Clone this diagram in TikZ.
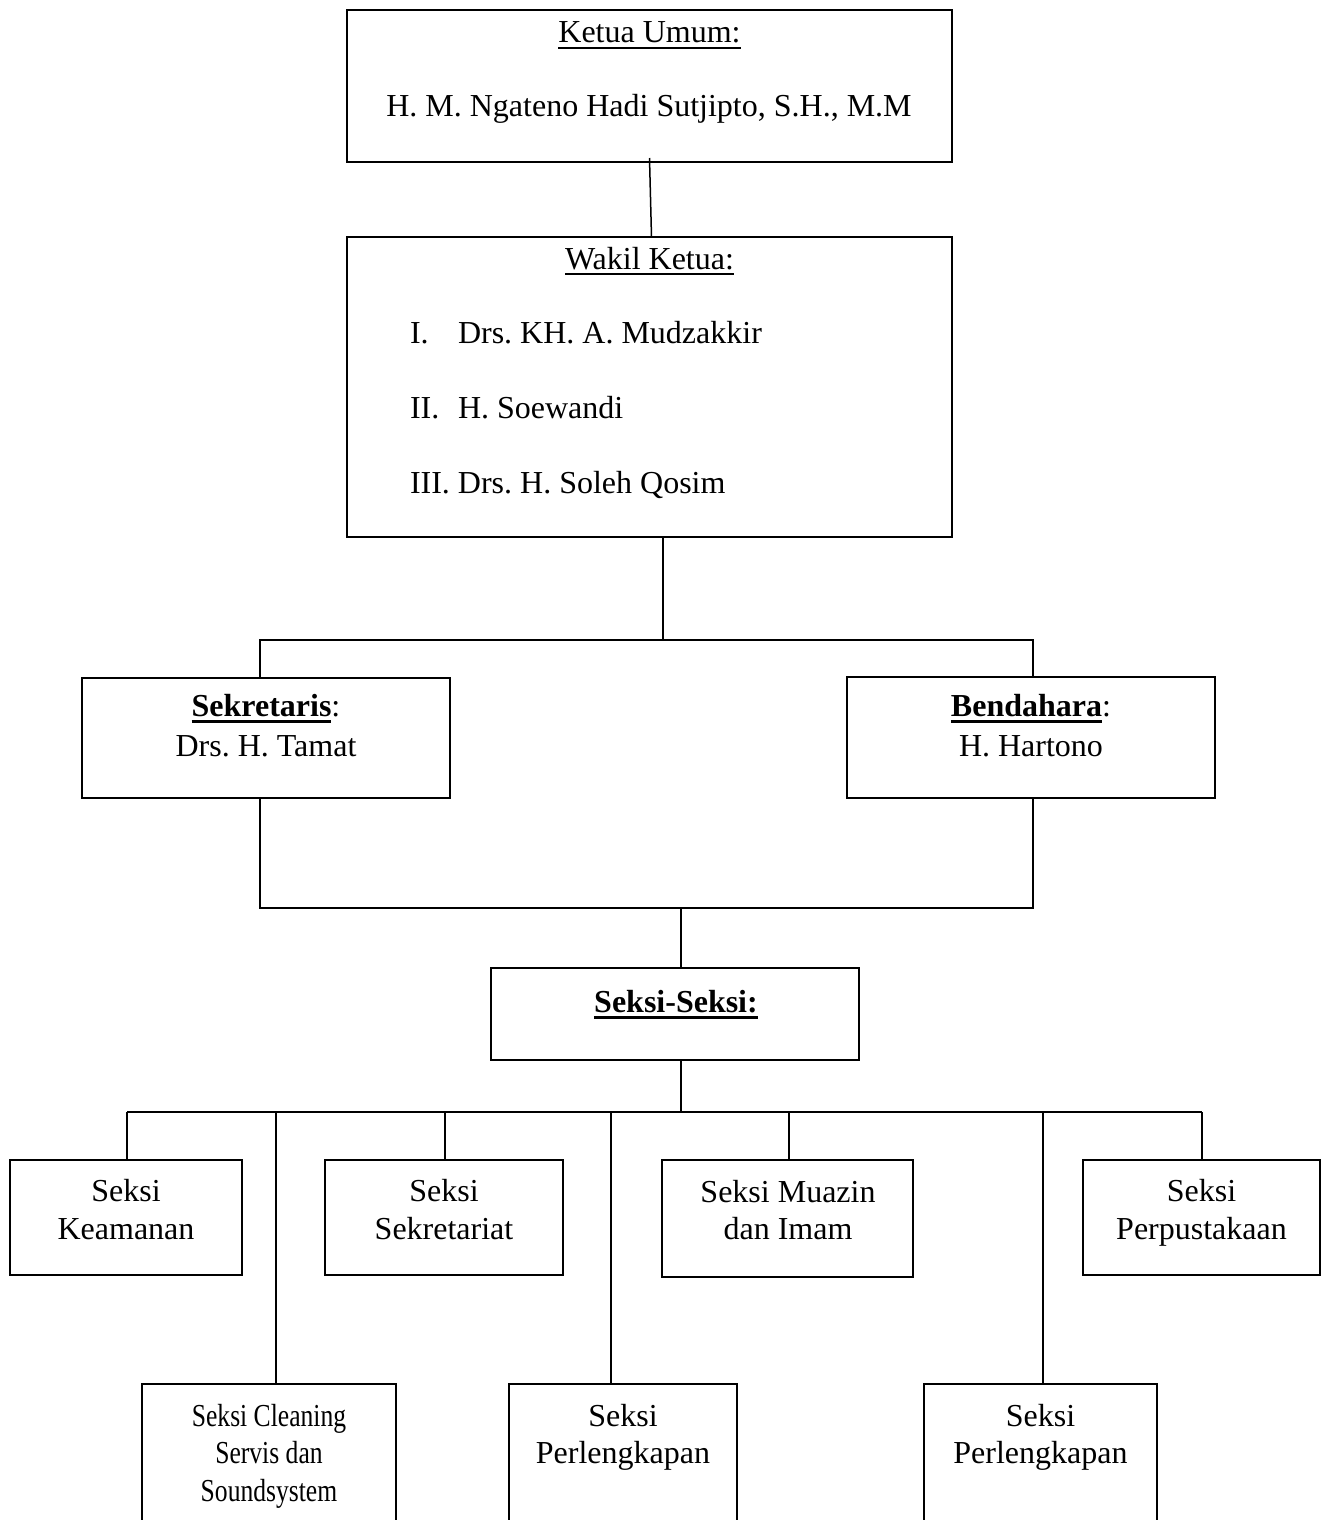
\documentclass[tikz,border=0pt]{standalone}
\usepackage{fontspec}
\usepackage{graphicx}
\setmainfont{Liberation Serif}
\frenchspacing
\newcommand\myul[3]{\setbox0\hbox{#3}\rlap{\rule[-#1]{\wd0}{#2}}\box0}
\newcommand\nul[1]{\myul{6pt}{2pt}{#1}}
\newcommand\bul[1]{\myul{7pt}{3pt}{\bfseries #1}}
\newcommand\cond[1]{\scalebox{0.8}[1]{#1}}
\tikzset{
  boxnode/.style={draw, line width=2pt, inner sep=0pt, outer sep=0pt, rectangle},
  txt/.style={inner sep=0pt, outer sep=0pt, anchor=base, font=\fontsize{32}{38}\selectfont\frenchspacing},
  txtw/.style={txt, anchor=base west},
  conn/.style={line width=1.5pt}
}
\begin{document}
\begin{tikzpicture}[x=1pt,y=-1pt]
\clip (0,0) rectangle (1325,1520);
\fill[white] (0,0) rectangle (1325,1520);
% boxes
\node[boxnode, minimum width=605pt, minimum height=152pt] (ketua) at (649.5,86) {};
\node[boxnode, minimum width=605pt, minimum height=300pt] (wakil) at (649.5,387) {};
\node[boxnode, minimum width=368pt, minimum height=120pt] (sekr) at (266,738) {};
\node[boxnode, minimum width=368pt, minimum height=121pt] (bend) at (1031,737.5) {};
\node[boxnode, minimum width=368pt, minimum height=92pt] (seksi) at (675,1014) {};
\node[boxnode, minimum width=232pt, minimum height=115pt] (keam) at (126,1217.5) {};
\node[boxnode, minimum width=238pt, minimum height=115pt] (sekt) at (444,1217.5) {};
\node[boxnode, minimum width=251pt, minimum height=117pt] (muaz) at (787.5,1218.5) {};
\node[boxnode, minimum width=237pt, minimum height=115pt] (perp) at (1201.5,1217.5) {};
\node[boxnode, minimum width=254pt, minimum height=200pt] (clean) at (269,1484) {};
\node[boxnode, minimum width=228pt, minimum height=200pt] (perl) at (623,1484) {};
\node[boxnode, minimum width=233pt, minimum height=200pt] (perlb) at (1040.5,1484) {};
% texts
\node[txt] (t1) at (649.5,43) {\nul{Ketua Umum:}};
\node[txt] (t2) at (649,116) {H. M. Ngateno Hadi Sutjipto, S.H., M.M};
\node[txt] (t3) at (649.5,269) {\nul{Wakil Ketua:}};
\node[txtw] (l1) at (410,343) {I.};
\node[txtw] (n1) at (458,343) {Drs. KH. A. Mudzakkir};
\node[txtw] (l2) at (410,418) {II.};
\node[txtw] (n2) at (458,418) {H. Soewandi};
\node[txtw] (n3) at (410,493) {III. Drs. H. Soleh Qosim};
\node[txt] (s1) at (266,716) {\bul{Sekretaris}:};
\node[txt] (s2) at (266,756) {Drs. H. Tamat};
\node[txt] (b1) at (1031,716) {\bul{Bendahara}:};
\node[txt] (b2) at (1031,756) {H. Hartono};
\node[txt] (k1) at (676,1012) {\bul{Seksi-Seksi:}};
\node[txt] (r1a) at (126,1201) {Seksi};
\node[txt] (r1b) at (126,1239) {Keamanan};
\node[txt] (r2a) at (444,1201) {Seksi};
\node[txt] (r2b) at (444,1239) {Sekretariat};
\node[txt] (r3a) at (788,1202) {Seksi Muazin};
\node[txt] (r3b) at (788,1239) {dan Imam};
\node[txt] (r4a) at (1201.5,1201) {Seksi};
\node[txt] (r4b) at (1201.5,1239) {Perpustakaan};
\node[txt] (c1) at (269,1426) {\cond{Seksi Cleaning}};
\node[txt] (c2) at (269,1463) {\cond{Servis dan}};
\node[txt] (c3) at (269,1501) {\cond{Soundsystem}};
\node[txt] (p1) at (623,1426) {Seksi};
\node[txt] (p2) at (623,1463) {Perlengkapan};
\node[txt] (q1) at (1040.5,1426) {Seksi};
\node[txt] (q2) at (1040.5,1463) {Perlengkapan};
% connector coordinates
\coordinate (a1) at (663,640);
\coordinate (a2) at (260,640);
\coordinate (a3) at (1033,640);
\coordinate (d1) at (260,908);
\coordinate (d2) at (1033,908);
\coordinate (d3) at (681,908);
\coordinate (e1) at (681,1112);
\coordinate (e2) at (127,1112);
\coordinate (e3) at (1202,1112);
% connectors
\draw[conn] ([yshift=4pt]ketua.south) -- ([xshift=2pt]wakil.north);
\draw[conn] (wakil.south -| a1) -- (a1);
\draw[conn] (sekr.north -| a2) -- (a2) -- (a3) -- (bend.north -| a3);
\draw[conn] (sekr.south -| d1) -- (d1) -- (d2) -- (bend.south -| d2);
\draw[conn] (d3) -- (seksi.north -| d3);
\draw[conn] (seksi.south -| e1) -- (e1);
\draw[conn] (e2) -- (e3);
\draw[conn] (e2) -- (keam.north -| e2);
\draw[conn] (e3) -- (perp.north -| e3);
\draw[conn] (276,1112) -- (clean.north -| 276,0);
\draw[conn] (445,1112) -- (sekt.north -| 445,0);
\draw[conn] (611,1112) -- (perl.north -| 611,0);
\draw[conn] (789,1112) -- (muaz.north -| 789,0);
\draw[conn] (1043,1112) -- (perlb.north -| 1043,0);
\end{tikzpicture}
\end{document}
